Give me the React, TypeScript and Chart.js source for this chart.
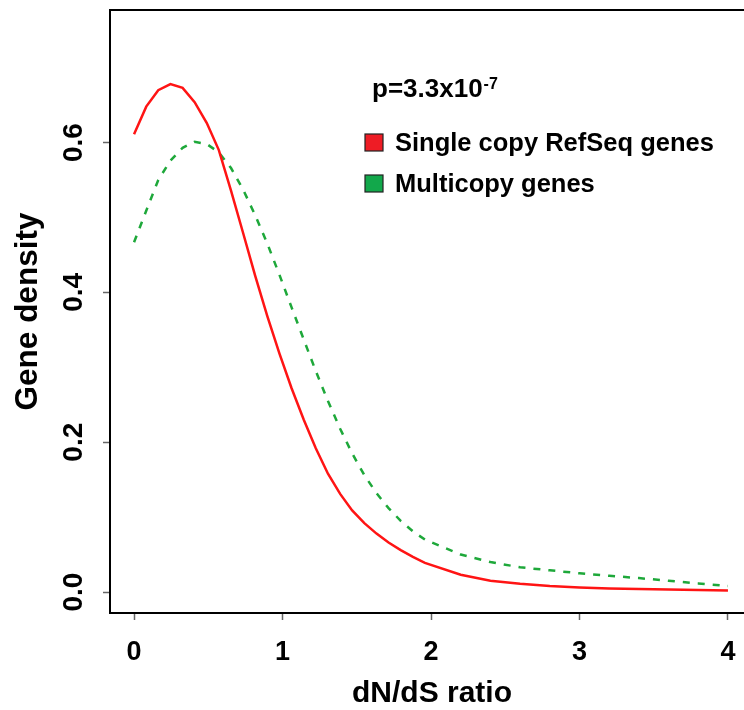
import React, { useEffect, useRef } from "react";
import { Chart, registerables } from "chart.js";

Chart.register(...registerables);

// dN/dS ratio grid (x positions of the density estimates)
const xValues = [
  0, 0.082, 0.163, 0.245, 0.327, 0.408, 0.49, 0.571, 0.653, 0.735, 0.816, 0.898,
  0.98, 1.061, 1.143, 1.224, 1.306, 1.388, 1.469, 1.551, 1.633, 1.714, 1.796,
  1.878, 1.959, 2.2, 2.4, 2.6, 2.8, 3.0, 3.2, 3.4, 3.6, 3.8, 4.0,
];

// Gene density, single copy RefSeq genes (solid red)
const singleCopyDensity = [
  0.611, 0.648, 0.67, 0.678, 0.673, 0.654, 0.626, 0.59, 0.536, 0.479, 0.422,
  0.368, 0.318, 0.272, 0.23, 0.192, 0.158, 0.131, 0.109, 0.092, 0.078, 0.066,
  0.056, 0.047, 0.039, 0.023, 0.015, 0.011, 0.008, 0.006, 0.0047, 0.004, 0.0034,
  0.0027, 0.002,
];

// Gene density, multicopy genes (dashed green)
const multicopyDensity = [
  0.467, 0.509, 0.55, 0.576, 0.593, 0.601, 0.598, 0.587, 0.566, 0.537, 0.503,
  0.465, 0.423, 0.38, 0.337, 0.295, 0.255, 0.218, 0.185, 0.156, 0.132, 0.112,
  0.095, 0.081, 0.07, 0.05, 0.04, 0.033, 0.029, 0.025, 0.0217, 0.0186, 0.015,
  0.0115, 0.008,
];

const xTickValues = [0, 1, 2, 3, 4];
const yTickValues = [0, 0.2, 0.4, 0.6];
const yTickLabels = ["0.0", "0.2", "0.4", "0.6"];
const seriesNames = ["Single copy RefSeq genes", "Multicopy genes"];
const pValueBase = "p=3.3x10";
const pValueExponent = "-7";
const xTitle = "dN/dS ratio";
const yTitle = "Gene density";

const FONT = '"Liberation Sans", Arial, Helvetica, sans-serif';
const RED = "#ff1414";
const GREEN = "#1ea83a";
const RED_BOX = "#ee1c25";
const GREEN_BOX = "#12a84b";

const decorPlugin = {
  id: "decor",
  afterDraw(chart: any) {
    const ctx = chart.ctx;
    const { left, top, bottom } = chart.chartArea;
    const yScale = chart.scales.y;
    ctx.save();
    // frame: left, top, bottom
    ctx.strokeStyle = "#000";
    ctx.lineWidth = 2;
    ctx.beginPath();
    ctx.moveTo(chart.width + 5, top);
    ctx.lineTo(left, top);
    ctx.lineTo(left, bottom);
    ctx.lineTo(chart.width + 5, bottom);
    ctx.stroke();

    // y tick labels (rotated like R)
    ctx.fillStyle = "#000";
    ctx.font = `bold 28px ${FONT}`;
    ctx.textAlign = "center";
    ctx.textBaseline = "middle";
    yTickValues.forEach((v, i) => {
      const py = yScale.getPixelForValue(v);
      ctx.save();
      ctx.translate(73, py);
      ctx.rotate(-Math.PI / 2);
      ctx.fillText(yTickLabels[i], 0, 1);
      ctx.restore();
    });

    // x title (centred on the full R plot box, which runs past the right edge)
    ctx.font = `bold 30px ${FONT}`;
    ctx.textBaseline = "alphabetic";
    ctx.fillText(xTitle, 432, 702);

    // p-value
    ctx.textAlign = "left";
    ctx.font = `bold 26px ${FONT}`;
    ctx.fillText(pValueBase, 372, 97);
    const w = ctx.measureText(pValueBase).width;
    ctx.font = `bold 16px ${FONT}`;
    ctx.fillText(pValueExponent, 372 + w + 1, 89);

    // legend
    const entries = [
      { name: seriesNames[0], color: RED_BOX, y: 134 },
      { name: seriesNames[1], color: GREEN_BOX, y: 175 },
    ];
    entries.forEach((e) => {
      ctx.fillStyle = e.color;
      ctx.fillRect(365, e.y, 18, 17);
      ctx.strokeStyle = "#222";
      ctx.lineWidth = 1.2;
      ctx.strokeRect(365, e.y, 18, 17);
      ctx.fillStyle = "#000";
      ctx.font = `bold 25.5px ${FONT}`;
      ctx.fillText(e.name, 395, e.y + 17);
    });
    ctx.restore();
  },
};

export default function App() {
  const canvasRef = useRef<HTMLCanvasElement>(null);

  useEffect(() => {
    const canvas = canvasRef.current;
    if (!canvas) return;
    const chart = new Chart(canvas, {
      type: "line",
      data: {
        datasets: [
          {
            label: seriesNames[0],
            data: xValues.map((x, i) => ({ x, y: singleCopyDensity[i] })),
            borderColor: RED,
            borderWidth: 2.5,
            pointRadius: 0,
            tension: 0,
            fill: false,
          },
          {
            label: seriesNames[1],
            data: xValues.map((x, i) => ({ x, y: multicopyDensity[i] })),
            borderColor: GREEN,
            borderWidth: 2.5,
            borderDash: [7, 8],
            pointRadius: 0,
            tension: 0,
            fill: false,
          },
        ],
      },
      options: {
        responsive: false,
        animation: false,
        events: [],
        layout: { padding: { top: 10, left: 0, right: 0, bottom: 0 } },
        plugins: {
          legend: { display: false },
          tooltip: { enabled: false },
        },
        scales: {
          x: {
            type: "linear",
            min: -0.162,
            max: 4.108,
            afterBuildTicks: (scale: any) => {
              scale.ticks = xTickValues.map((v) => ({ value: v }));
            },
            afterFit: (scale: any) => {
              scale.height = 97;
              scale.paddingLeft = 0;
              scale.paddingRight = 0;
            },
            border: { display: false },
            grid: {
              display: true,
              drawOnChartArea: false,
              drawTicks: true,
              tickLength: 7,
              tickColor: "#666",
              tickWidth: 1.5,
            },
            ticks: {
              color: "#000",
              font: { family: FONT, size: 27, weight: "bold" },
              padding: 16,
              maxRotation: 0,
              minRotation: 0,
              callback: (v: any) => String(v),
            },
            title: { display: false, text: xTitle },
          },
          y: {
            type: "linear",
            min: -0.028,
            max: 0.777,
            afterBuildTicks: (scale: any) => {
              scale.ticks = yTickValues.map((v) => ({ value: v }));
            },
            afterFit: (scale: any) => {
              scale.width = 110;
              scale.paddingTop = 0;
              scale.paddingBottom = 0;
            },
            border: { display: false },
            grid: {
              display: true,
              drawOnChartArea: false,
              drawTicks: true,
              tickLength: 7,
              tickColor: "#666",
              tickWidth: 1.5,
            },
            ticks: { display: false },
            title: {
              display: true,
              text: yTitle,
              color: "#000",
              font: { family: FONT, size: 31.5, weight: "bold" },
              padding: { top: 9, bottom: 0 },
            },
          },
        },
      },
      plugins: [decorPlugin],
    });
    return () => chart.destroy();
  }, []);

  return (
    <canvas
      ref={canvasRef}
      width={744}
      height={710}
      style={{ position: "fixed", left: 0, top: 0, display: "block", background: "#fff" }}
    />
  );
}
